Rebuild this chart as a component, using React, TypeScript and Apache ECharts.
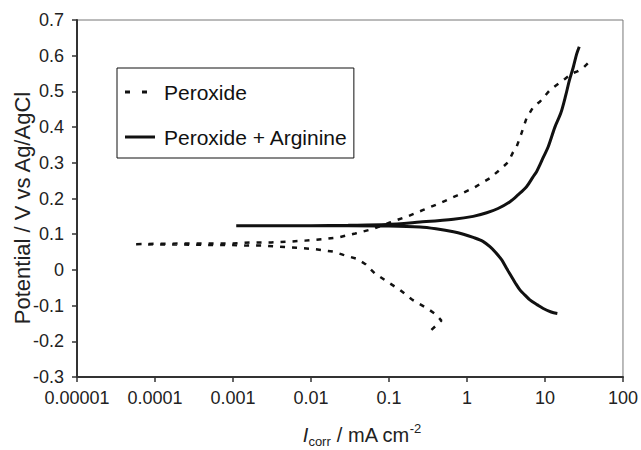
import React, { useEffect, useRef } from "react";
import * as echarts from "echarts";

// Peroxide: cathodic branch (from the negative end up to Ecorr), then anodic branch
const peroxideCurrent = [
  0.35, 0.47, 0.4, 0.32, 0.2, 0.138, 0.103, 0.066, 0.05, 0.039, 0.026, 0.0195, 0.0113,
  0.0066, 0.004, 0.0025, 0.0015, 0.0009, 0.0005, 0.0002, 0.0001, 0.000052,
  0.0001, 0.0003, 0.001, 0.0018, 0.0031, 0.0051, 0.0084, 0.0137, 0.0224, 0.037, 0.063,
  0.103, 0.169, 0.275, 0.45, 0.74, 1.2, 1.97, 2.79, 3.4, 3.9, 4.33, 5.0, 5.8, 7.1, 8.6,
  11.6, 14.1, 18, 22, 26, 31, 36,
];
const peroxidePotential = [
  -0.168, -0.142, -0.125, -0.11, -0.084, -0.056, -0.038, -0.01, 0.016, 0.031, 0.042, 0.051,
  0.058, 0.062, 0.065, 0.068, 0.068, 0.07, 0.07, 0.071, 0.071, 0.072,
  0.073, 0.074, 0.074, 0.077, 0.077, 0.079, 0.082, 0.086, 0.091, 0.102, 0.115,
  0.133, 0.149, 0.168, 0.187, 0.208, 0.229, 0.257, 0.285, 0.303, 0.33, 0.345, 0.383, 0.425,
  0.457, 0.471, 0.504, 0.518, 0.535, 0.55, 0.556, 0.566, 0.58,
];

// Peroxide + Arginine
const arginineCurrent = [
  14.4, 12, 9.5, 8, 6.4, 5.5, 4.77, 4.2, 3.73, 3.2, 2.79, 2.3, 1.97, 1.6, 1.2, 0.9, 0.67,
  0.4, 0.25, 0.1, 0.03, 0.01, 0.003, 0.0011,
  0.003, 0.01, 0.03, 0.093, 0.25, 0.67, 1.2, 1.79, 2.5, 3.56, 4.5, 5.8, 7, 7.8, 8.6, 9.5,
  11, 13.4, 16, 18.5, 20.5, 23, 25.5, 27.5,
];
const argininePotential = [
  -0.122, -0.118, -0.108, -0.098, -0.084, -0.07, -0.056, -0.038, -0.019, 0.005, 0.028,
  0.05, 0.065, 0.08, 0.091, 0.1, 0.107, 0.115, 0.12, 0.123, 0.124, 0.124, 0.124, 0.124,
  0.124, 0.124, 0.125, 0.127, 0.134, 0.142, 0.15, 0.16, 0.172, 0.191, 0.21, 0.233, 0.26,
  0.275, 0.294, 0.315, 0.345, 0.4, 0.44, 0.49, 0.53, 0.567, 0.605, 0.625,
];

const xTickLabels = ["0.00001", "0.0001", "0.001", "0.01", "0.1", "1", "10", "100"];
const seriesNames = ["Peroxide", "Peroxide + Arginine"];
const yAxisTitle = "Potential / V vs Ag/AgCl";

const FONT = "'Liberation Sans', Arial, Helvetica, sans-serif";

export default function App() {
  const ref = useRef<HTMLDivElement>(null);

  useEffect(() => {
    if (!ref.current) return;
    const chart = echarts.init(ref.current, undefined, { renderer: "svg" });
    const pData = peroxideCurrent.map((x, i) => [x, peroxidePotential[i]]);
    const aData = arginineCurrent.map((x, i) => [x, argininePotential[i]]);

    chart.setOption({
      animation: false,
      backgroundColor: "#fff",
      textStyle: { fontFamily: FONT },
      grid: {
        left: 77,
        top: 20,
        right: 18,
        bottom: 73,
        show: true,
        borderColor: "#777",
        borderWidth: 1,
        backgroundColor: "transparent",
      },
      legend: {
        orient: "vertical",
        left: 117,
        top: 68,
        padding: [12, 6, 9, 8],
        itemWidth: 30,
        itemHeight: 3,
        itemGap: 21,
        borderColor: "#111",
        borderWidth: 1,
        backgroundColor: "#fff",
        data: [
          { name: seriesNames[0], icon: "path://M0,0h5v3h-5z M17,0h5v3h-5z M30,0L30,0" },
          { name: seriesNames[1], icon: "path://M0,0h30v3h-30z" },
        ],
        textStyle: {
          fontFamily: FONT,
          fontSize: 21,
          lineHeight: 24,
          color: "#111",
          padding: [0, 0, 0, 4],
        },
      },
      xAxis: {
        type: "log",
        logBase: 10,
        min: 0.00001,
        max: 100,
        splitNumber: 7,
        axisLine: { show: true, onZero: false, lineStyle: { color: "#333", width: 2 } },
        axisTick: { show: true, inside: false, length: 5, lineStyle: { color: "#333", width: 1.5 } },
        minorTick: { show: false },
        splitLine: { show: false },
        axisLabel: {
          margin: 12,
          fontSize: 18,
          color: "#222",
          fontFamily: FONT,
          formatter: (v: number) => {
            const e = Math.round(Math.log10(v));
            return xTickLabels[e + 5] ?? "";
          },
        },
      },
      yAxis: {
        type: "value",
        min: -0.3,
        max: 0.7,
        interval: 0.1,
        axisLine: { show: true, onZero: false, lineStyle: { color: "#333", width: 2 } },
        axisTick: { show: true, inside: false, length: 5, lineStyle: { color: "#333", width: 1.5 } },
        splitLine: { show: false },
        axisLabel: {
          margin: 13,
          fontSize: 18,
          color: "#222",
          fontFamily: FONT,
          formatter: (v: number) => (Math.abs(v) < 1e-9 ? "0" : v.toFixed(1)),
        },
      },
      series: [
        {
          name: seriesNames[0],
          type: "line",
          data: pData,
          symbol: "none",
          smooth: false,
          lineStyle: { color: "#111", width: 2.5, type: [5, 7] },
          itemStyle: { color: "#111" },
        },
        {
          name: seriesNames[1],
          type: "line",
          data: aData,
          symbol: "none",
          smooth: 0.3,
          lineStyle: { color: "#111", width: 3, type: "solid" },
          itemStyle: { color: "#111" },
        },
      ],
      graphic: [
        {
          type: "text",
          x: 22.5,
          y: 208,
          rotation: Math.PI / 2,
          style: {
            text: yAxisTitle,
            fontFamily: FONT,
            fontSize: 22,
            fill: "#222",
            align: "center",
            verticalAlign: "middle",
          },
        },
        {
          type: "text",
          x: 362,
          y: 435,
          style: {
            text: "{i|I}{s|corr}{n| / mA cm}{p|-2}",
            fontFamily: FONT,
            fill: "#222",
            align: "center",
            verticalAlign: "middle",
            rich: {
              i: { fontSize: 20, fontStyle: "italic", lineHeight: 26, fontFamily: FONT, fill: "#222" },
              s: { fontSize: 13, lineHeight: 15, verticalAlign: "bottom", fontFamily: FONT, fill: "#222" },
              n: { fontSize: 20, lineHeight: 26, fontFamily: FONT, fill: "#222" },
              p: { fontSize: 13, lineHeight: 20, verticalAlign: "top", fontFamily: FONT, fill: "#222" },
            },
          },
        },
      ],
    });

    return () => chart.dispose();
  }, []);

  return (
    <div
      ref={ref}
      style={{ width: 641, height: 450, position: "absolute", left: 0, top: 0, background: "#fff" }}
    />
  );
}
